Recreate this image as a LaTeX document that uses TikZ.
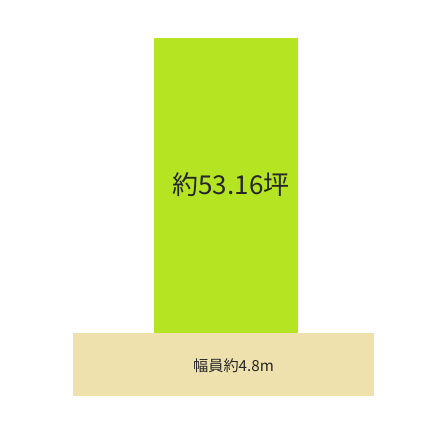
\documentclass[tikz,border=0pt]{standalone}
\usepackage{fontspec}
\newfontfamily\cjk{Noto Sans CJK JP}
\definecolor{lotgreen}{RGB}{181,228,35}
\definecolor{roadbeige}{RGB}{238,225,174}
\tikzset{
  lot/.style={fill=lotgreen},
  road/.style={fill=roadbeige},
  bigtext/.style={font=\cjk\fontsize{26}{30}\selectfont, text=black!85, inner sep=0pt},
  smalltext/.style={font=\cjk\fontsize{15.2}{17}\selectfont, text=black!85, inner sep=0pt}
}
\begin{document}
\begin{tikzpicture}[x=1pt,y=-1pt]
  \useasboundingbox (0,0) rectangle (424,448);
  % plot and road
  \fill[lot] (154,38) rectangle (298,333);
  \fill[road] (73,333) rectangle (374,396);
  % labels
  \node[bigtext] (area) at (231,185) {約53.16坪};
  \node[smalltext] (width) at (233.5,366) {幅員約4.8m};
\end{tikzpicture}
\end{document}
